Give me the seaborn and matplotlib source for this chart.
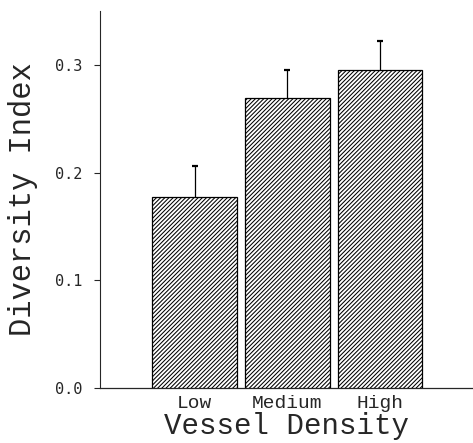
import numpy as np
import matplotlib
matplotlib.use("Agg")
import matplotlib.pyplot as plt
import seaborn as sns

categories = ["Low", "Medium", "High"]
values = [0.177, 0.269, 0.295]
errors = [0.029, 0.026, 0.027]
yticks = [0.0, 0.1, 0.2, 0.3]
ytick_labels = ["0.0", "0.1", "0.2", "0.3"]

sns.set_style("ticks")
plt.rcParams["hatch.linewidth"] = 0.75
plt.rcParams["font.family"] = ["Liberation Mono", "DejaVu Sans"]

fig = plt.figure(figsize=(4.73, 4.43), dpi=100)
ax = fig.add_axes([100 / 473, 1 - 388 / 443, 373 / 473, 377 / 443])

sns.barplot(x=categories, y=values, width=0.91, color="white", edgecolor="black",
            linewidth=0.9, hatch="////////", errorbar=None, ax=ax)
for p in ax.patches:
    p.set_facecolor("white")
    p.set_hatch("////////")
    p.set_edgecolor("black")
    p.set_zorder(3)

pos = np.arange(len(categories))
eb = ax.errorbar(pos, values, yerr=[np.zeros(len(values)), errors], fmt="none",
                 ecolor="black", elinewidth=0.9, capsize=2.3, capthick=1.6, zorder=1)
caps = list(eb[1])
if len(caps) == 2:
    low = caps[0] if np.mean(caps[0].get_ydata()) < np.mean(caps[1].get_ydata()) else caps[1]
    low.remove()

ax.set_xlim(-1.02, 3.0)
ax.set_ylim(0, 0.35)
ax.set_yticks(yticks)
ax.set_yticklabels(ytick_labels, fontfamily="DejaVu Sans Mono", fontsize=11)
ax.tick_params(axis="y", direction="out", length=4, width=0.8, pad=9)
ax.tick_params(axis="x", length=0, pad=5, labelsize=14)
for lab in ax.get_xticklabels():
    lab.set_fontfamily("Liberation Mono")

sns.despine(ax=ax)
ax.spines["left"].set_linewidth(0.8)
ax.spines["bottom"].set_linewidth(0.9)

ax.set_ylabel("Diversity Index", fontsize=22, labelpad=12)
ax.set_xlabel("Vessel Density", fontsize=21, labelpad=0)

fig.savefig("out.png", dpi=100)
